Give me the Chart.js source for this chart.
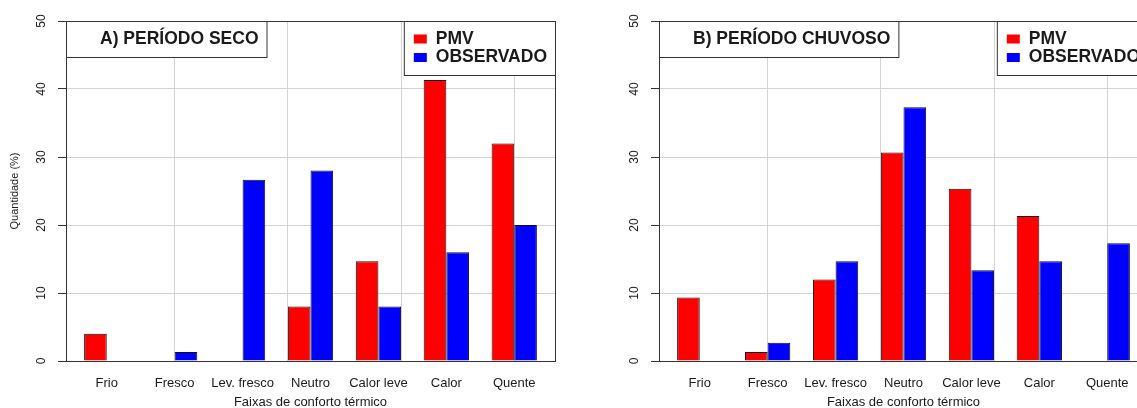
<!DOCTYPE html>
<html>
<head>
<meta charset="utf-8">
<script src="https://cdn.jsdelivr.net/npm/chart.js@4.4.1/dist/chart.umd.min.js"></script>
<style>
  html, body { margin: 0; padding: 0; background: #fff; overflow: hidden; width: 1137px; height: 408px; }
  .panel { position: absolute; top: 0; width: 570px; height: 408px; }
  #pA { left: 0; }
  #pB { left: 593px; }
</style>
</head>
<body>
<div class="panel" id="pA"><canvas id="chartA" width="570" height="408"></canvas></div>
<div class="panel" id="pB"><canvas id="chartB" width="570" height="408"></canvas></div>
<script>
const categories = ["Frio", "Fresco", "Lev. fresco", "Neutro", "Calor leve", "Calor", "Quente"];
const groupCenters = [2, 5, 8, 11, 14, 17, 20];
const seriesNames = ["PMV", "OBSERVADO"];
const secoPMV = [4, 0, 0, 8, 14.67, 41.33, 32];
const secoObs = [0, 1.33, 26.67, 28, 8, 16, 20];
const chuvosoPMV = [9.33, 1.33, 12, 30.67, 25.33, 21.33, 0];
const chuvosoObs = [0, 2.67, 14.67, 37.33, 13.33, 14.67, 17.33];
const gridXTicks = [5, 10, 15, 20];
const yMax = 50;

const ink = "#1a1a1a";
const FONT = "'Liberation Sans', Arial, sans-serif";

// box + title + legend drawn inside the plot area, like the R figure
const boxesPlugin = {
    id: "boxes",
    afterDatasetsDraw(chart, args, opts) {
        const { ctx, chartArea: a } = chart;
        ctx.save();
        ctx.strokeStyle = "#333";
        ctx.lineWidth = 1;
        ctx.strokeRect(a.left + 0.5, a.top + 0.5, a.right - a.left, a.bottom - a.top);

        ctx.font = "bold 17.5px " + FONT;
        ctx.textBaseline = "middle";

        // title box
        const tw = ctx.measureText(opts.title).width;
        ctx.fillStyle = "#fff";
        ctx.fillRect(a.left, a.top, 34 + tw + 8, 36);
        ctx.strokeRect(a.left + 0.5, a.top + 0.5, 34 + tw + 8, 36);
        ctx.fillStyle = ink;
        ctx.textAlign = "left";
        ctx.fillText(opts.title, a.left + 34, a.top + 18);

        // legend box
        const ds = chart.data.datasets;
        const lw = Math.max(...ds.map(d => ctx.measureText(d.label).width));
        const boxW = 32 + lw + 8;
        const lx = a.right - boxW;
        ctx.fillStyle = "#fff";
        ctx.fillRect(lx, a.top, boxW, 54);
        ctx.strokeRect(lx + 0.5, a.top + 0.5, boxW, 54);
        ds.forEach((d, i) => {
            const cy = a.top + 18 + i * 18.5;
            ctx.fillStyle = d.backgroundColor;
            ctx.fillRect(lx + 10, cy - 4.5, 13, 9);
            ctx.fillStyle = ink;
            ctx.fillText(d.label, lx + 32, cy);
        });
        ctx.restore();
    }
};

function makeChart(id, title, pmv, obs, showYTitle) {
    return new Chart(document.getElementById(id).getContext("2d"), {
        type: "bar",
        data: {
            datasets: [{
                label: seriesNames[0],
                data: groupCenters.map((x, i) => ({ x: x, y: pmv[i] })),
                backgroundColor: "#ff0000",
                borderColor: "#111",
                borderWidth: 1,
                categoryPercentage: 2 / 3,
                barPercentage: 1
            }, {
                label: seriesNames[1],
                data: groupCenters.map((x, i) => ({ x: x, y: obs[i] })),
                backgroundColor: "#0000ff",
                borderColor: "#111",
                borderWidth: 1,
                categoryPercentage: 2 / 3,
                barPercentage: 1
            }]
        },
        options: {
            responsive: false,
            animation: false,
            devicePixelRatio: 1,
            layout: { padding: { top: 21, right: 15, left: 0, bottom: 0 } },
            plugins: {
                legend: { display: false },
                tooltip: { enabled: false },
                boxes: { title: title }
            },
            scales: {
                x: {
                    type: "linear",
                    offset: false,
                    min: 0.2,
                    max: 21.8,
                    afterBuildTicks: s => { s.ticks = groupCenters.map(v => ({ value: v })); },
                    afterFit: s => { s.height = 47; },
                    grid: { display: false, drawTicks: false, offset: false },
                    border: { display: true, color: "#333" },
                    ticks: {
                        autoSkip: false,
                        maxRotation: 0,
                        padding: 15,
                        color: ink,
                        font: { family: FONT, size: 13 },
                        callback: v => categories[groupCenters.indexOf(v)]
                    },
                    title: {
                        display: true,
                        text: "Faixas de conforto térmico",
                        color: ink,
                        font: { family: FONT, size: 13, lineHeight: 1 },
                        padding: { top: 0, bottom: -1 }
                    }
                },
                xg: {
                    type: "linear",
                    position: "bottom",
                    offset: false,
                    min: 0.2,
                    max: 21.8,
                    afterBuildTicks: s => { s.ticks = gridXTicks.map(v => ({ value: v })); },
                    afterFit: s => { s.height = 0; },
                    ticks: { display: false },
                    grid: { color: "#d3d3d3", drawTicks: false, offset: false },
                    border: { display: false }
                },
                y: {
                    min: 0,
                    max: yMax,
                    afterFit: s => { s.width = 66; },
                    ticks: {
                        stepSize: 10,
                        minRotation: 90,
                        maxRotation: 90,
                        crossAlign: "center",
                        padding: 10,
                        color: ink,
                        font: { family: FONT, size: 12 }
                    },
                    grid: {
                        color: c => (c.tick && (c.tick.value === 0 || c.tick.value === yMax)) ? "rgba(0,0,0,0)" : "#d3d3d3",
                        tickColor: "#333",
                        tickLength: 8
                    },
                    border: { display: true, color: "#333" },
                    title: {
                        display: showYTitle,
                        text: "Quantidade (%)",
                        color: ink,
                        font: { family: FONT, size: 11 },
                        padding: { top: 8, bottom: 0 }
                    }
                }
            }
        },
        plugins: [boxesPlugin]
    });
}

makeChart("chartA", "A) PERÍODO SECO", secoPMV, secoObs, true);
makeChart("chartB", "B) PERÍODO CHUVOSO", chuvosoPMV, chuvosoObs, false);
</script>
</body>
</html>
